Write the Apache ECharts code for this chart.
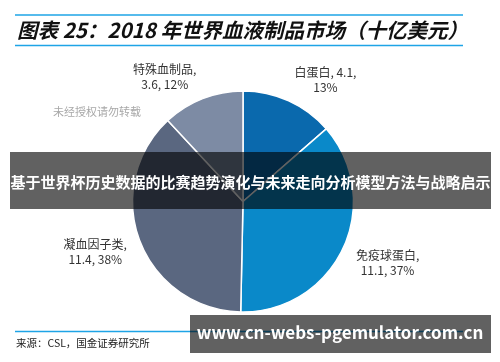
<!DOCTYPE html>
<html><head><meta charset="utf-8">
<script src="https://cdn.jsdelivr.net/npm/echarts@6/dist/echarts.min.js"></script>
<style>html,body{margin:0;padding:0;background:#fff}#c{width:500px;height:362px}</style>
</head><body><div id="c"></div>
<script>
const categories = ['白蛋白', '免疫球蛋白', '凝血因子类', '特殊血制品'];
const values = [4.1, 11.1, 11.4, 3.6];
const shares = [13, 37, 38, 12];
const colors = ['#0a69ad', '#0a89c9', '#5a6780', '#7d8ba4'];
const titleText = '图表 25：2018 年世界血液制品市场（十亿美元）';
const sourceText = '来源：CSL，国金证券研究所';
const watermark = '未经授权请勿转载';
const bannerText = '基于世界杯历史数据的比赛趋势演化与未来走向分析模型方法与战略启示';
const urlText = 'www.cn-webs-pgemulator.com.cn';

// label nudges (layout only)
const labelNudge = [[21, 14], [10, -1], [-9, -2], [-24, 14]];

const chart = echarts.init(document.getElementById('c'), null, {renderer: 'canvas'});
const data = categories.map((n, i) => ({
  name: n, value: values[i],
  itemStyle: {color: colors[i]},
  label: {formatter: i === 0 ? n + ', ' + values[i] + ',\n' + shares[i] + '%' : n + ',\n' + values[i] + ', ' + shares[i] + '%'}
}));
const F = '"Noto Sans CJK SC", sans-serif';
chart.setOption({
  animation: false,
  series: [{
    type: 'pie',
    center: [243, 201.5],
    radius: [0, 110.5],
    startAngle: 90,
    clockwise: true,
    avoidLabelOverlap: false,
    itemStyle: {borderColor: '#fff', borderWidth: 1.5},
    label: {show: true, position: 'outside', color: '#333', fontSize: 12, fontFamily: F, lineHeight: 15, align: 'center', distanceToLabelLine: 0},
    labelLine: {show: false, length: 38, length2: 0},
    labelLayout: function (p) {
      const d = labelNudge[p.dataIndex];
      return {align: 'center', verticalAlign: 'middle', dx: d[0], dy: d[1]};
    },
    data: data
  }],
  graphic: [
    {type: 'line', shape: {x1: 15, y1: 15, x2: 463, y2: 15}, style: {stroke: '#1ea4e6', lineWidth: 1.5}},
    {type: 'line', shape: {x1: 15, y1: 45.5, x2: 463, y2: 45.5}, style: {stroke: '#1ea4e6', lineWidth: 1.5}},
    {type: 'text', x: 17, y: 30, style: {text: titleText, fill: '#111', font: 'italic bold 20.5px ' + F, textVerticalAlign: 'middle'}},
    {type: 'text', x: 53, y: 112, style: {text: watermark, fill: '#a8a8a8', font: '11px ' + F, textVerticalAlign: 'middle'}},
    {type: 'line', shape: {x1: 15, y1: 331.5, x2: 463, y2: 331.5}, style: {stroke: '#1ea4e6', lineWidth: 1.5}},
    {type: 'text', x: 16, y: 343, style: {text: sourceText, fill: '#222', font: '10.5px ' + F, textVerticalAlign: 'middle'}},
    {type: 'rect', z: 100, shape: {x: 10, y: 152, width: 481, height: 57}, style: {fill: 'rgba(0,0,0,0.62)'}},
    {type: 'text', z: 101, x: 250.5, y: 182, style: {text: bannerText, fill: '#fff', font: 'bold 15px ' + F, textAlign: 'center', textVerticalAlign: 'middle'}},
    {type: 'rect', z: 100, shape: {x: 190, y: 315, width: 301, height: 38}, style: {fill: 'rgba(0,0,0,0.62)'}},
    {type: 'text', z: 101, x: 340, y: 333, style: {text: urlText, fill: '#fff', font: 'bold 17px ' + F, textAlign: 'center', textVerticalAlign: 'middle'}}
  ]
});
</script></body></html>
